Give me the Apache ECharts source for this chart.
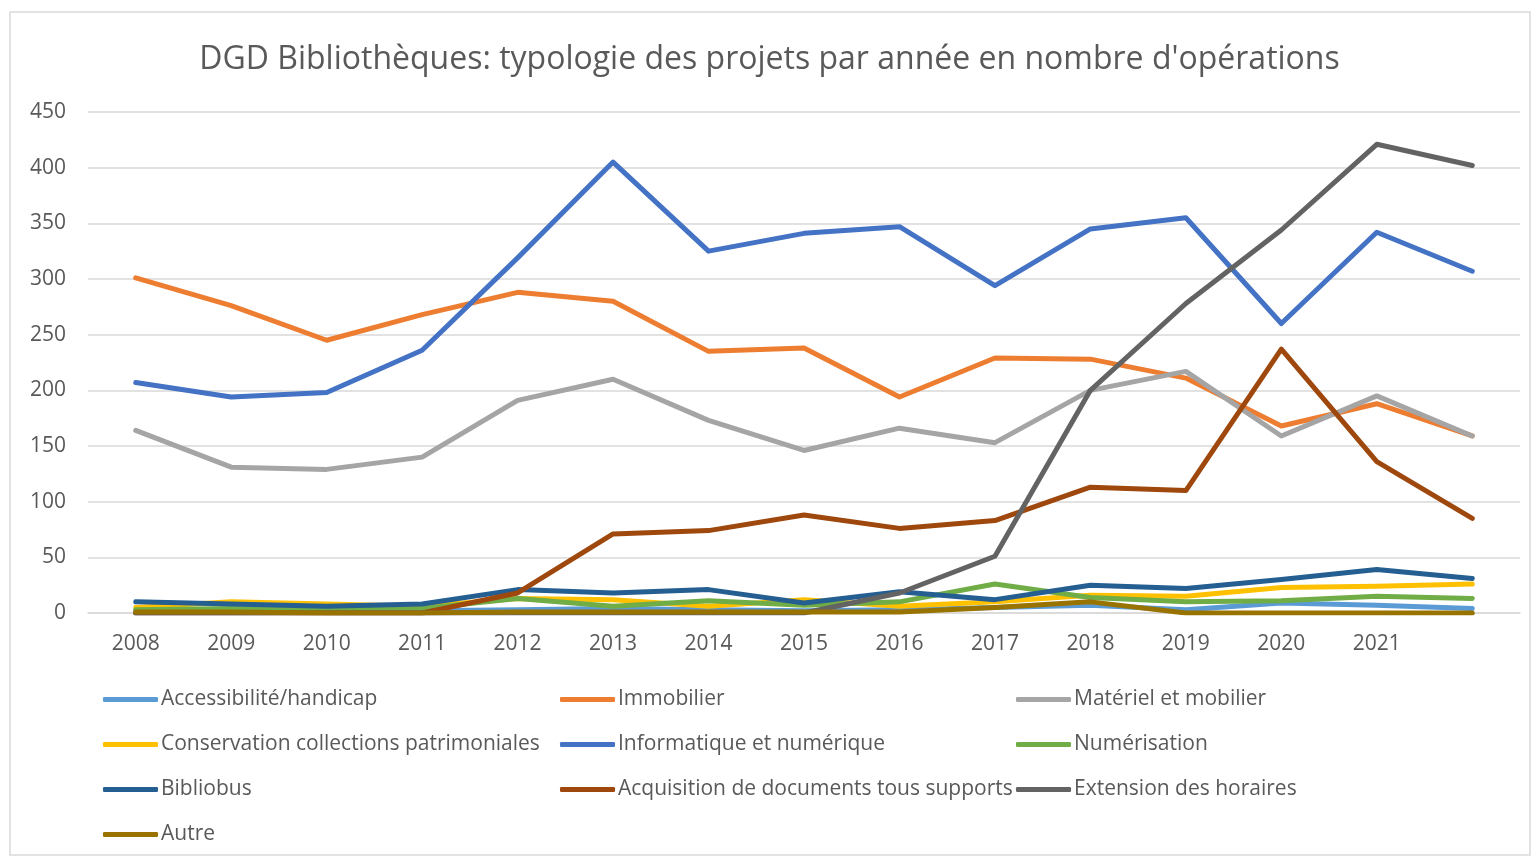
<!DOCTYPE html>
<html>
<head>
<meta charset="utf-8">
<script src="https://cdn.jsdelivr.net/npm/echarts@6/dist/echarts.min.js"></script>
<style>
  html, body { margin: 0; padding: 0; background: #fff; }
  #chart { width: 1539px; height: 858px; }
</style>
</head>
<body>
<div id="chart"></div>
<script>
// années (la dernière n'a pas d'étiquette sur l'axe)
var years = ["2008","2009","2010","2011","2012","2013","2014","2015","2016","2017","2018","2019","2020","2021",""];
var yTicks = [0, 50, 100, 150, 200, 250, 300, 350, 400, 450];

var accessibilite = [2, 1, 1, 2, 3, 4, 3, 2, 3, 5, 7, 3, 9, 7, 4];
var immobilier    = [301, 276, 245, 268, 288, 280, 235, 238, 194, 229, 228, 211, 168, 188, 159];
var materiel      = [164, 131, 129, 140, 191, 210, 173, 146, 166, 153, 200, 217, 159, 195, 159];
var conservation  = [5, 10, 8, 6, 13, 12, 6, 12, 6, 10, 16, 15, 23, 24, 26];
var informatique  = [207, 194, 198, 236, 319, 405, 325, 341, 347, 294, 345, 355, 260, 342, 307];
var numerisation  = [3, 4, 3, 4, 13, 6, 11, 7, 10, 26, 14, 10, 11, 15, 13];
var bibliobus     = [10, 8, 6, 8, 21, 18, 21, 9, 19, 12, 25, 22, 30, 39, 31];
var acquisition   = [0, 0, 0, 0, 18, 71, 74, 88, 76, 83, 113, 110, 237, 136, 85];
var extension     = [0, 0, 0, 0, 0, 0, 0, 0, 18, 51, 200, 278, 344, 421, 402];
var autre         = [1, 1, 0, 0, 1, 1, 1, 1, 1, 5, 10, 0, 0, 0, 0];

var names = ["Accessibilité/handicap", "Immobilier", "Matériel et mobilier",
             "Conservation collections patrimoniales", "Informatique et numérique", "Numérisation",
             "Bibliobus", "Acquisition de documents tous supports", "Extension des horaires",
             "Autre"];
var values = [accessibilite, immobilier, materiel, conservation, informatique, numerisation,
              bibliobus, acquisition, extension, autre];
var colors = ["#5b9bd5", "#ed7d31", "#a5a5a5", "#ffc000", "#4472c4", "#70ad47",
              "#255e91", "#9e480e", "#636363", "#997300"];

var font = "'Open Sans', 'Noto Sans', sans-serif";
var txt = "#595959";

var series = names.map(function (n, i) {
    return {
        name: n,
        type: "line",
        data: values[i],
        symbol: "none",
        color: colors[i],
        lineStyle: { width: 5, color: colors[i], cap: "round", join: "round" }
    };
});

// une légende par colonne pour reproduire la grille 3 colonnes
function legendCol(left, data) {
    return {
        orient: "vertical",
        left: left,
        top: 689,
        padding: 0,
        data: data,
        icon: "roundRect",
        itemWidth: 55,
        itemHeight: 5,
        itemGap: 24,
        textStyle: { fontFamily: font, fontSize: 21, color: txt, lineHeight: 20, padding: [0, 0, 0, -2] }
    };
}

var myChart = echarts.init(document.getElementById("chart"));
var option = {
    animation: false,
    title: {
        text: "DGD Bibliothèques: typologie des projets par année en nombre d'opérations",
        left: "center",
        top: 39,
        textStyle: { fontFamily: font, fontSize: 32, fontWeight: "normal", color: txt }
    },
    legend: [
        legendCol(103, [names[0], names[3], names[6], names[9]]),
        legendCol(560, [names[1], names[4], names[7]]),
        legendCol(1016, [names[2], names[5], names[8]])
    ],
    grid: { left: 88, right: 19, top: 112, bottom: 245, containLabel: false },
    xAxis: {
        type: "category",
        data: years,
        boundaryGap: true,
        axisLine: { lineStyle: { color: "#d9d9d9", width: 1.5 } },
        axisTick: { show: false },
        axisLabel: { fontFamily: font, fontSize: 21, color: txt, margin: 21, interval: 0 }
    },
    yAxis: {
        type: "value",
        min: yTicks[0],
        max: yTicks[yTicks.length - 1],
        interval: 50,
        axisLine: { show: false },
        axisTick: { show: false },
        splitLine: { lineStyle: { color: "#d9d9d9", width: 1.5 } },
        axisLabel: { fontFamily: font, fontSize: 21, color: txt, margin: 22 }
    },
    graphic: [{
        type: "rect",
        shape: { x: 10, y: 12, width: 1520, height: 843 },
        style: { fill: null, stroke: "#d9d9d9", lineWidth: 1.5 },
        silent: true,
        z: -1
    }],
    series: series
};
myChart.setOption(option);
</script>
</body>
</html>
